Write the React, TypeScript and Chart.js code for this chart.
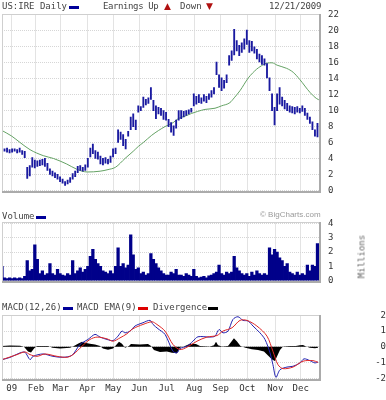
import React, { useEffect, useRef } from "react";
import { Chart, registerables } from "chart.js";

Chart.register(...registerables);

const FONT = "'DejaVu Sans Mono', monospace";

// Month gridline positions (trading-day index) and their labels
const monthTickIdx = [7.7, 26.9, 46.5, 67.6, 88.2, 108.8, 130.5, 152.4, 173.3, 194.4, 216.6, 236.7];
const monthLabels = ["09", "Feb", "Mar", "Apr", "May", "Jun", "Jul", "Aug", "Sep", "Oct", "Nov", "Dec"];

const priceTicks = [0, 2, 4, 6, 8, 10, 12, 14, 16, 18, 20, 22];
const volumeTicks = [0, 1, 2, 3, 4];
const macdTicks = [-2, -1, 0, 1, 2];

// one bar every 2 trading days
const DAY_STEP = 2;

const priceLow = [
  4.8, 4.9, 4.8, 4.7, 4.8, 4.9, 4.7, 4.8, 4.5, 4.1,
  1.5, 1.8, 2.9, 2.8, 3.0, 3.1, 3.2, 3.0, 2.5, 2.0,
  1.8, 1.6, 1.4, 1.1, 0.9, 0.6, 0.8, 1.0, 1.4, 1.7,
  2.2, 2.5, 2.4, 2.5, 2.9, 4.2, 4.6, 4.0, 3.9, 3.3,
  3.2, 3.4, 3.3, 3.5, 4.2, 4.6, 6.0, 6.4, 5.6, 5.2,
  6.8, 7.6, 8.0, 7.6, 9.8, 10.0, 10.4, 10.7, 10.9, 11.4,
  10.0, 9.0, 9.6, 9.4, 8.9, 8.8, 8.0, 7.3, 6.9, 7.8,
  8.8, 9.0, 9.2, 9.4, 9.6, 9.8, 10.6, 10.8, 11.0, 10.9,
  11.2, 11.0, 11.4, 11.7, 12.1, 14.5, 12.9, 12.5, 12.8, 13.5,
  15.7, 16.3, 17.0, 17.5, 16.9, 17.3, 17.7, 18.3, 17.3, 17.5,
  17.2, 16.5, 16.1, 15.8, 15.7, 14.1, 12.5, 10.0, 8.2, 10.0,
  10.8, 10.6, 10.2, 10.0, 9.8, 9.7, 9.6, 9.8, 9.7, 9.9,
  9.4, 8.9, 8.4, 7.6, 6.8, 6.7,
];
const priceHigh = [
  5.4, 5.2, 5.3, 5.1, 5.2, 5.2, 5.1, 5.3, 5.0, 4.9,
  2.9, 3.1, 4.1, 3.8, 3.7, 3.8, 3.9, 4.0, 3.4, 2.7,
  2.4, 2.2, 2.0, 1.7, 1.4, 1.1, 1.3, 1.6, 2.1, 2.4,
  3.0, 3.1, 2.9, 3.2, 4.0, 5.3, 5.8, 5.0, 4.8, 4.3,
  4.0, 4.1, 3.9, 4.3, 5.2, 5.3, 7.6, 7.3, 7.0, 6.4,
  7.4, 9.2, 9.6, 8.8, 10.6, 10.5, 11.7, 11.4, 11.6, 12.9,
  11.3, 10.6, 10.4, 10.3, 10.0, 9.8, 8.9, 8.5, 8.1, 8.8,
  10.0, 10.0, 9.9, 10.0, 10.1, 10.3, 12.1, 11.8, 12.0, 11.6,
  12.0, 11.8, 12.1, 12.5, 12.9, 16.1, 14.5, 14.1, 13.8, 14.5,
  16.9, 17.5, 20.2, 18.8, 18.2, 18.5, 19.0, 20.1, 18.8, 18.7,
  18.0, 17.7, 17.1, 16.9, 16.5, 15.9, 14.1, 12.1, 10.4, 12.1,
  12.9, 11.7, 11.3, 10.9, 10.6, 10.5, 10.4, 10.5, 10.3, 10.6,
  10.3, 9.7, 9.2, 8.6, 7.6, 8.4,
];

// volume in millions, same 2-day steps
const volume = [
  1.0, 0.2, 0.15, 0.2, 0.15, 0.2, 0.15, 0.2, 0.15, 0.3,
  1.4, 0.7, 0.8, 2.5, 1.5, 0.5, 0.7, 0.4, 0.5, 1.2,
  0.5, 0.4, 0.8, 0.5, 0.4, 0.35, 0.5, 0.4, 1.4, 0.5,
  0.7, 0.9, 0.6, 0.8, 1.0, 1.7, 2.2, 1.5, 1.2, 1.0,
  0.7, 0.6, 0.5, 0.7, 0.5, 1.0, 2.3, 1.0, 1.2, 0.9,
  1.1, 3.2, 1.8, 0.8, 0.9, 0.5, 0.6, 0.4, 0.5, 1.9,
  1.5, 1.2, 0.9, 0.7, 0.5, 0.4, 0.4, 0.6, 0.5, 0.8,
  0.4, 0.4, 0.3, 0.5, 0.4, 0.3, 0.8, 0.3, 0.2, 0.25,
  0.3, 0.2, 0.35, 0.4, 0.5, 0.6, 1.1, 0.5, 0.4, 0.6,
  0.5, 0.6, 1.7, 0.9, 0.7, 0.5, 0.4, 0.5, 0.3, 0.6,
  0.4, 0.7, 0.5, 0.4, 0.5, 0.4, 2.3, 1.8, 2.2, 2.0,
  1.6, 1.4, 1.0, 1.2, 0.6, 0.5, 0.4, 0.6, 0.4, 0.5,
  0.4, 1.1, 0.7, 1.1, 1.0, 2.6,
];

// moving average (green)
const maIdx = [0, 7.7, 14.3, 22.2, 32.7, 40.7, 51.3, 59.2, 67.6, 77.7, 84, 90, 97.5, 104, 108, 112, 118.6, 124, 129.2, 135.7, 139.7, 145, 150.3, 155, 160.9, 168.8, 174, 180.6, 184, 188.6, 195.2, 201.8, 204.4, 209.7, 214, 218, 225.6, 230.8, 236, 244, 249.4, 252];
const maVal = [7.5, 6.8, 6.0, 5.1, 4.35, 4.0, 3.3, 2.65, 2.3, 2.4, 2.6, 2.9, 4.0, 4.9, 5.5, 6.0, 6.9, 7.5, 8.0, 8.5, 9.0, 9.3, 9.65, 9.9, 10.15, 10.3, 10.6, 11.0, 11.6, 12.5, 14.1, 15.2, 15.5, 15.95, 16.0, 15.7, 15.3, 14.8, 13.9, 12.3, 11.5, 11.3];

// MACD(12,26) blue
const macdIdx = [0, 6.3, 14.3, 18.2, 22.2, 24.6, 32.5, 40.4, 48.3, 55.5, 61.8, 68.1, 73.7, 77.7, 83.2, 88, 91.9, 95.1, 97.5, 101.4, 105.4, 111.7, 117.3, 119.7, 123.6, 129.2, 135.5, 138.7, 141, 146.6, 151.3, 155.3, 164.8, 168.8, 172, 175.1, 179.1, 183, 187, 191, 195, 198.9, 204.4, 208.4, 212.4, 214.7, 217.1, 220.3, 225.8, 230.6, 236.1, 239.3, 244, 248, 250.4];
const macdVal = [-0.81, -0.67, -0.38, -0.34, -0.81, -0.6, -0.45, -0.6, -0.66, -0.53, 0.15, 0.47, 0.79, 0.62, 0.47, 0.4, 0.68, 1.0, 0.89, 1.0, 1.32, 1.53, 1.68, 1.42, 1.15, 0.79, -0.28, -0.38, -0.11, 0.04, 0.36, 0.64, 0.62, 0.68, 1.1, 0.89, 1.0, 1.74, 1.91, 1.68, 1.64, 1.32, 0.89, 0.47, -0.38, -1.13, -1.93, -1.45, -1.28, -1.23, -1.02, -0.76, -0.87, -1.02, -0.96];

// MACD EMA(9) red
const emaIdx = [0, 11.9, 18.2, 22.2, 27.7, 34.1, 43.6, 51.5, 56.3, 63.4, 69.7, 75.3, 83.2, 88, 93.5, 99, 103.8, 111.7, 118.9, 122.8, 129.2, 135.5, 141, 146.6, 154.5, 162.4, 170.4, 175.1, 182.3, 188.6, 194.1, 202, 210, 214.7, 218.7, 222.7, 230.6, 238.5, 246.4, 250.4];
const emaVal = [-0.81, -0.49, -0.32, -0.49, -0.6, -0.45, -0.6, -0.66, -0.49, 0.04, 0.47, 0.62, 0.51, 0.36, 0.57, 0.83, 1.15, 1.42, 1.59, 1.42, 1.0, 0.15, -0.17, -0.02, 0.36, 0.62, 0.72, 1.0, 1.21, 1.68, 1.68, 1.32, 0.68, -0.28, -1.13, -1.38, -1.28, -0.91, -0.87, -0.98];

// Divergence (black area)
const divIdx = [0, 6.3, 14.3, 17.4, 20.6, 23, 25.4, 27.7, 36.5, 40, 46, 53.9, 57, 60.2, 63.4, 66.6, 69.7, 73.7, 77.7, 80, 84, 88, 90.3, 92.7, 95.1, 97.5, 100.6, 102.2, 109.3, 115.7, 118.1, 120.4, 125.2, 130.7, 134.7, 138.7, 141, 145, 149, 153.7, 156.9, 164.8, 168, 169.6, 171.2, 174.3, 179.1, 181.4, 183.8, 186.1, 189, 192.9, 198, 202.9, 207.6, 210.8, 214, 216.3, 218, 220.3, 222.7, 228.2, 232.9, 236, 238.5, 241, 244, 248, 250.4];
const divVal = [0.05, 0.08, 0.07, 0.0, -0.3, -0.35, -0.1, 0.05, 0.06, -0.05, -0.1, -0.05, 0.05, 0.2, 0.32, 0.25, 0.2, 0.15, 0.05, -0.1, -0.18, -0.1, 0.1, 0.32, 0.2, -0.05, 0.05, 0.18, 0.15, 0.18, 0.05, -0.2, -0.32, -0.3, -0.38, -0.4, -0.05, 0.05, 0.2, 0.18, 0.05, 0.03, 0.1, 0.32, 0.1, 0.02, 0.05, 0.3, 0.55, 0.35, 0.05, -0.05, -0.15, -0.2, -0.3, -0.55, -0.8, -0.9, -0.6, -0.2, 0.02, 0.05, 0.05, 0.1, 0.12, 0.03, -0.05, -0.08, -0.05];

const AXIS_W = 66;

const framePlugin = {
  id: "bcFrame",
  afterDraw(chart: any) {
    const { ctx, chartArea: a } = chart;
    const l = Math.round(a.left), t = Math.round(a.top), r = Math.round(a.right), b = Math.round(a.bottom);
    ctx.save();
    ctx.strokeStyle = "#cfcfcf";
    ctx.lineWidth = 1;
    ctx.strokeRect(l + 0.5, t + 0.5, r - l - 1, b - t - 1);
    ctx.strokeStyle = "#ababab";
    ctx.lineWidth = 2;
    ctx.beginPath();
    ctx.moveTo(r, t);
    ctx.lineTo(r, b + 1);
    ctx.moveTo(l, b);
    ctx.lineTo(r + 1, b);
    ctx.stroke();
    ctx.restore();
  },
};

function monthAxis(showLabels: boolean): any {
  return {
    type: "linear",
    min: 0,
    max: 252,
    offset: false,
    afterBuildTicks: (s: any) => {
      s.ticks = monthTickIdx.map((v) => ({ value: v }));
    },
    grid: { color: "#e3e3e3", lineWidth: 1, drawTicks: false, offset: false },
    border: { display: false },
    ticks: showLabels
      ? {
          display: true,
          autoSkip: false,
          maxRotation: 0,
          padding: 3,
          font: { family: FONT, size: 9 },
          color: "#333",
          callback: (_v: any, i: number) => monthLabels[i],
        }
      : { display: false },
    afterFit: (s: any) => {
      s.height = showLabels ? 20 : 0;
    },
  };
}

function valueAxis(min: number, max: number, tickVals: number[], far: boolean): any {
  return {
    type: "linear",
    position: "right",
    min,
    max,
    afterBuildTicks: (s: any) => {
      s.ticks = tickVals.map((v) => ({ value: v }));
    },
    grid: { color: "#d6d6d6", lineWidth: 1, drawTicks: false },
    border: { display: false, dash: [1, 1] },
    ticks: {
      autoSkip: false,
      padding: far ? 3 : 8,
      crossAlign: far ? "far" : "near",
      font: { family: FONT, size: 9 },
      color: "#333",
    },
    afterFit: (s: any) => {
      s.width = AXIS_W;
    },
  };
}

const baseOptions = (padding: any, x: any, y: any): any => ({
  animation: false,
  responsive: false,
  devicePixelRatio: 1,
  events: [],
  layout: { padding },
  plugins: { legend: { display: false }, tooltip: { enabled: false }, title: { display: false } },
  scales: { x, y },
});

const toPts = (xs: number[], ys: number[]) => xs.map((x, i) => ({ x, y: ys[i] }));

const textStyle = (left: number, top: number, extra: any = {}): React.CSSProperties => ({
  position: "absolute",
  left,
  top,
  fontFamily: FONT,
  fontSize: 9,
  lineHeight: "9px",
  color: "#444",
  whiteSpace: "pre",
  ...extra,
});

const dash = (left: number, top: number, color: string): React.CSSProperties => ({
  position: "absolute",
  left,
  top,
  width: 10,
  height: 3,
  background: color,
});

export default function App() {
  const priceRef = useRef<HTMLCanvasElement>(null);
  const volRef = useRef<HTMLCanvasElement>(null);
  const macdRef = useRef<HTMLCanvasElement>(null);

  useEffect(() => {
    const priceBars = priceLow.map((lo, i) => ({ x: i * DAY_STEP, y: [lo, priceHigh[i]] }));
    const volBars = volume.map((v, i) => ({ x: i * DAY_STEP, y: v }));

    const c1 = new Chart(priceRef.current as any, {
      type: "bar",
      data: {
        datasets: [
          {
            type: "bar",
            data: priceBars as any,
            backgroundColor: "#1a1aa0",
            borderWidth: 0,
            barThickness: 1.2,
            order: 1,
          },
          {
            type: "line",
            data: toPts(maIdx, maVal) as any,
            borderColor: "#64a264",
            borderWidth: 1,
            pointRadius: 0,
            cubicInterpolationMode: "monotone",
            order: 2,
          },
        ],
      },
      options: baseOptions({ left: 2, top: 14, right: 0, bottom: 8 }, monthAxis(false), valueAxis(-0.16, 22.12, priceTicks, false)),
      plugins: [framePlugin],
    } as any);

    const c2 = new Chart(volRef.current as any, {
      type: "bar",
      data: {
        datasets: [
          {
            type: "bar",
            data: volBars as any,
            backgroundColor: "#00008a",
            borderWidth: 0,
            barThickness: 2.6,
          },
        ],
      },
      options: baseOptions({ left: 2, top: 17, right: 0, bottom: 7 }, monthAxis(false), valueAxis(-0.06, 4.1, volumeTicks, false)),
      plugins: [framePlugin],
    } as any);

    const c3 = new Chart(macdRef.current as any, {
      type: "line",
      data: {
        datasets: [
          {
            data: toPts(divIdx, divVal) as any,
            borderWidth: 0,
            borderColor: "rgba(0,0,0,0)",
            backgroundColor: "#000000",
            fill: "origin",
            pointRadius: 0,
            tension: 0,
            order: 3,
          },
          {
            data: toPts(macdIdx, macdVal) as any,
            borderColor: "#2222b0",
            borderWidth: 1,
            pointRadius: 0,
            fill: false,
            tension: 0.3,
            order: 2,
          },
          {
            data: toPts(emaIdx, emaVal) as any,
            borderColor: "#e02626",
            borderWidth: 1,
            pointRadius: 0,
            fill: false,
            tension: 0.3,
            order: 1,
          },
        ],
      },
      options: baseOptions({ left: 2, top: 20, right: 0, bottom: 0 }, monthAxis(true), valueAxis(-2.1, 2.02, macdTicks, true)),
      plugins: [framePlugin],
    } as any);

    return () => {
      c1.destroy();
      c2.destroy();
      c3.destroy();
    };
  }, []);

  return (
    <div style={{ position: "fixed", left: 0, top: 0, width: 386, height: 400, background: "#fff", overflow: "hidden" }}>
      <canvas ref={priceRef} width={386} height={205} style={{ position: "absolute", left: 0, top: 0, width: 386, height: 205 }} />
      <canvas ref={volRef} width={386} height={90} style={{ position: "absolute", left: 0, top: 205, width: 386, height: 90 }} />
      <canvas ref={macdRef} width={386} height={105} style={{ position: "absolute", left: 0, top: 295, width: 386, height: 105 }} />

      {/* header */}
      <div style={textStyle(2, 2)}>US:IRE Daily</div>
      <div style={dash(69, 5.5, "#000099")} />
      <div style={textStyle(103, 2, { letterSpacing: "-0.4px" })}>Earnings Up</div>
      <div style={textStyle(164, 1.5, { fontFamily: "'DejaVu Sans', sans-serif", color: "#b01010", fontSize: 9 })}>▲</div>
      <div style={textStyle(180, 2)}>Down</div>
      <div style={textStyle(206, 1.5, { fontFamily: "'DejaVu Sans', sans-serif", color: "#b01010", fontSize: 9 })}>▼</div>
      <div style={textStyle(269, 2, { letterSpacing: "-0.2px" })}>12/21/2009</div>

      {/* volume header */}
      <div style={textStyle(2, 212)}>Volume</div>
      <div style={dash(36, 215.5, "#000099")} />
      <div style={textStyle(260, 211, { fontFamily: "'Liberation Sans', Arial, sans-serif", fontSize: 8, lineHeight: "8px", color: "#9a9a9a" })}>© BigCharts.com</div>
      <div
        style={textStyle(331.5, 251.5, {
          width: 60,
          textAlign: "center",
          transform: "rotate(-90deg)",
          color: "#666",
        })}
      >
        Millions
      </div>

      {/* MACD header */}
      <div style={textStyle(2, 303.4)}>MACD(12,26)</div>
      <div style={dash(63, 307, "#000099")} />
      <div style={textStyle(77, 303.4)}>MACD EMA(9)</div>
      <div style={dash(138, 307, "#dd0000")} />
      <div style={textStyle(153, 303.4)}>Divergence</div>
      <div style={dash(208, 307, "#000000")} />
    </div>
  );
}
